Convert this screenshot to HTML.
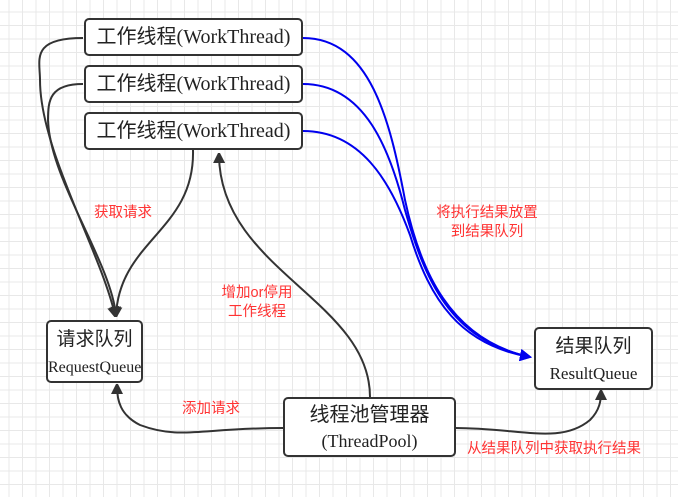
<!DOCTYPE html>
<html><head><meta charset="utf-8"><style>
html,body{margin:0;padding:0;}
body{width:678px;height:497px;overflow:hidden;background:#fff;
background-image:linear-gradient(#e8e8e8 1px,transparent 1px),linear-gradient(90deg,#e8e8e8 1px,transparent 1px);
background-size:13.5px 13.5px;background-position:-5px -2px;position:relative;
font-family:"Liberation Serif","Noto Sans CJK SC",serif;}
.b{position:absolute;border:2px solid #333;border-radius:5px;background:#fff;box-sizing:border-box;text-align:center;color:#222;white-space:nowrap;}
.w{left:84px;width:219px;height:38px;font-size:20px;line-height:34px;}
.r{position:absolute;color:#f33;font-size:14.5px;font-family:"Liberation Sans","Noto Sans CJK SC",sans-serif;text-align:center;line-height:19px;white-space:nowrap;}
svg{position:absolute;left:0;top:0;}
</style></head><body>
<svg width="678" height="497">
<defs>
<marker id="ab" markerWidth="10" markerHeight="12" refX="8" refY="6" orient="auto" markerUnits="userSpaceOnUse"><path d="M0,0 L12,6 L0,12 z" fill="#333"/></marker>
<marker id="bl" markerWidth="12" markerHeight="12" refX="10" refY="6" orient="auto" markerUnits="userSpaceOnUse"><path d="M0,0 L12,6 L0,12 z" fill="#0000ee"/></marker>
</defs>
<g fill="none" stroke="#333" stroke-width="2">
<path d="M83,38 C30,38 40,60 40,80 C40,150 100,250 115,315" marker-end="url(#ab)"/>
<path d="M83,84 C50,84 48,100 48,120 C50,180 110,260 116,315" marker-end="url(#ab)"/>
<path d="M193,150 C195,230 120,240 116,315" marker-end="url(#ab)"/>
<path d="M370,397 C370,300 220,270 219,155" marker-end="url(#ab)"/>
<path d="M283,428 C200,428 180,440 140,425 C120,415 117,400 117,386" marker-end="url(#ab)"/>
<path d="M455,428 C520,428 560,445 590,420 C600,410 601,400 601,392" marker-end="url(#ab)"/>
</g>
<g fill="none" stroke="#0000ee" stroke-width="2">
<path d="M303,38 C370,38 390,120 405,200 C420,270 450,340 530,357" marker-end="url(#bl)"/>
<path d="M303,84 C365,84 390,150 405,210 C425,280 450,340 530,357" marker-end="url(#bl)"/>
<path d="M303,131 C360,131 390,180 410,235 C430,300 460,345 530,357" marker-end="url(#bl)"/>
</g>
</svg>
<div class="b w" style="top:18px">工作线程(WorkThread)</div>
<div class="b w" style="top:65px">工作线程(WorkThread)</div>
<div class="b w" style="top:112px">工作线程(WorkThread)</div>
<div class="b" style="left:46px;top:320px;width:97px;height:63px;font-size:16px;line-height:27px;padding-top:4px"><span style="font-size:19px">请求队列</span><br>RequestQueue</div>
<div class="b" style="left:534px;top:327px;width:119px;height:63px;font-size:17px;line-height:27px;padding-top:4px"><span style="font-size:19px">结果队列</span><br>ResultQueue</div>
<div class="b" style="left:283px;top:397px;width:173px;height:60px;font-size:18px;line-height:26px;padding-top:3px"><span style="font-size:20px">线程池管理器</span><br>(ThreadPool)</div>
<div class="r" style="left:94px;top:204px">获取请求</div>
<div class="r" style="left:428px;top:204px;width:118px">将执行结果放置<br>到结果队列</div>
<div class="r" style="left:212px;top:284px;width:90px">增加or停用<br>工作线程</div>
<div class="r" style="left:182px;top:400px">添加请求</div>
<div class="r" style="left:467px;top:440px">从结果队列中获取执行结果</div>
</body></html>
